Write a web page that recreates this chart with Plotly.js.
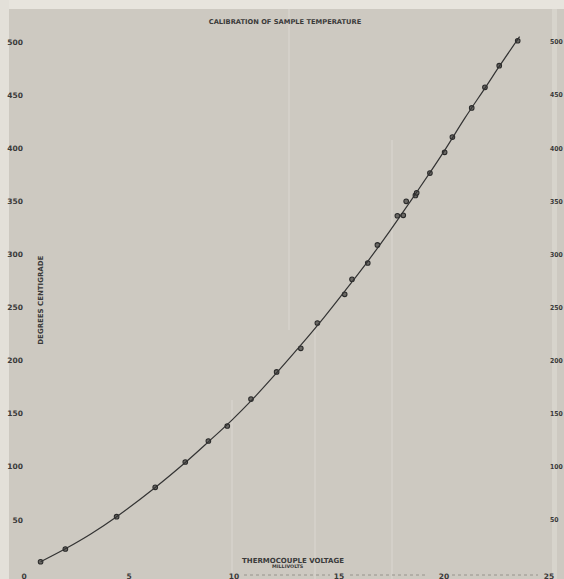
<!DOCTYPE html>
<html>
<head>
<meta charset="utf-8">
<script src="https://cdn.plot.ly/plotly-3.0.1.min.js"></script>
<style>html,body{margin:0;padding:0;background:#cdc9c1;}#chart{width:564px;height:579px;}</style>
</head>
<body>
<div id="chart"></div>
<script>
// Measured calibration points (millivolts, degrees centigrade)
const pointMillivolts = [0.79, 1.97, 4.41, 6.25, 7.68, 8.78, 9.68, 10.81, 12.03, 13.18, 13.97, 15.27, 15.62, 16.37, 16.83, 17.78, 18.06, 18.20, 18.64, 18.70, 19.33, 20.03, 20.40, 21.32, 21.95, 22.63, 23.51];
const pointDegrees    = [10.6, 22.6, 53.0, 80.7, 104.5, 124.3, 138.4, 163.8, 189.3, 211.6, 235.4, 262.4, 276.6, 291.9, 308.9, 336.4, 336.8, 350.0, 355.5, 358.0, 376.6, 396.1, 410.5, 437.9, 457.3, 477.7, 501.2];

// Hand-drawn calibration curve
const curveMillivolts = [0.79, 1.97, 3.2, 4.41, 6.25, 7.68, 8.78, 9.9, 10.81, 12.03, 13.2, 14.3, 15.3, 16.37, 17.4, 18.4, 19.33, 20.03, 21.0, 22.0, 22.63, 23.6];
const curveDegrees    = [10.6, 22.8, 37.0, 53.0, 80.5, 104.0, 123.5, 144.0, 162.0, 188.5, 215.0, 241.0, 266.0, 293.5, 321.5, 350.0, 377.0, 398.0, 428.5, 458.0, 477.0, 505.0];

// Tick labels
const xTickVals = [0, 5, 10, 15, 20, 25];
const xTickText = ['0', '5', '10', '15', '20', '25'];
const yTickVals = [50, 100, 150, 200, 250, 300, 350, 400, 450, 500];
const yTickText = ['50', '100', '150', '200', '250', '300', '350', '400', '450', '500'];

const titleText = 'CALIBRATION OF SAMPLE TEMPERATURE';
const xTitleText = 'THERMOCOUPLE VOLTAGE';
const xUnitText = 'MILLIVOLTS';
const yTitleText = 'DEGREES CENTIGRADE';

const W = 564, H = 579;
const M = {l: 24, r: 15, t: 30, b: 9};
const plotW = W - M.l - M.r, plotH = H - M.t - M.b;
const px = x => (x - M.l) / plotW;           // page px -> paper x
const py = y => (H - M.b - y) / plotH;       // page px -> paper y

const ink = '#3a3a3a';
const tickFont = {family: 'DejaVu Sans', size: 7.5, color: ink, weight: 'bold'};
const rightTickFont = {family: '"DejaVu Sans Condensed", "Liberation Sans Narrow", "DejaVu Sans"', size: 6.8, color: ink, weight: 'bold'};
const yRange = [2.82, 511.3];

const traces = [
  {
    x: curveMillivolts, y: curveDegrees, yaxis: 'y2',
    mode: 'lines', line: {color: '#333333', width: 1.2, shape: 'spline', smoothing: 1},
    hoverinfo: 'skip', showlegend: false
  },
  {
    x: pointMillivolts, y: pointDegrees,
    mode: 'markers',
    marker: {symbol: 'circle', size: 4.6, color: '#6a6864', line: {color: '#2a2a2a', width: 1.1}},
    showlegend: false
  }
];

function vline(xp, y0, y1) {
  return {type: 'line', xref: 'paper', yref: 'paper', x0: px(xp), x1: px(xp), y0: py(y0), y1: py(y1),
          line: {color: 'rgba(236,233,227,0.4)', width: 1.2}, layer: 'below'};
}
function ruler(x0, x1) {
  return {type: 'line', xref: 'paper', yref: 'paper', x0: px(x0), x1: px(x1), y0: py(575), y1: py(575),
          line: {color: '#96938c', width: 1, dash: 'dot'}, layer: 'above'};
}

const layout = {
  width: W, height: H,
  margin: M,
  paper_bgcolor: '#cdc9c1',
  plot_bgcolor: 'rgba(0,0,0,0)',
  showlegend: false,
  title: {text: titleText, x: 285 / W, y: 1 - 22 / H, xanchor: 'center', yanchor: 'middle',
          font: {family: 'DejaVu Sans', size: 6.7, color: ink, weight: 'bold'}},
  xaxis: {range: [0, 25], tickvals: xTickVals, ticktext: xTickText, tickfont: tickFont,
          showgrid: false, zeroline: false, showline: false, ticks: '', fixedrange: true},
  yaxis: {range: yRange, tickvals: yTickVals, ticktext: yTickText, tickfont: tickFont,
          showgrid: false, zeroline: false, showline: false, ticks: '', fixedrange: true},
  yaxis2: {range: yRange, overlaying: 'y', side: 'right', tickvals: yTickVals, ticktext: yTickText,
           tickfont: rightTickFont, showgrid: false, zeroline: false, showline: false, ticks: '', fixedrange: true},
  annotations: [
    {text: xTitleText, xref: 'paper', yref: 'paper', x: px(292.5), y: py(560.7), showarrow: false,
     xanchor: 'center', yanchor: 'middle', font: {family: 'DejaVu Sans', size: 7, color: ink, weight: 'bold'}},
    {text: xUnitText, xref: 'paper', yref: 'paper', x: px(287.5), y: py(566.5), showarrow: false,
     xanchor: 'center', yanchor: 'middle', font: {family: 'DejaVu Sans', size: 4.8, color: ink, weight: 'bold'}},
    {text: yTitleText, xref: 'paper', yref: 'paper', x: px(40.7), y: py(300), showarrow: false, textangle: -90,
     xanchor: 'center', yanchor: 'middle', font: {family: 'DejaVu Sans', size: 7, color: ink, weight: 'bold'}}
  ],
  shapes: [
    {type: 'rect', xref: 'paper', yref: 'paper', x0: px(0), x1: px(W), y0: py(0), y1: py(9),
     fillcolor: '#e7e4dd', line: {width: 0}, layer: 'below'},
    {type: 'rect', xref: 'paper', yref: 'paper', x0: px(0), x1: px(9), y0: py(0), y1: py(H),
     fillcolor: '#e3e0d9', line: {width: 0}, layer: 'below'},
    {type: 'rect', xref: 'paper', yref: 'paper', x0: px(552), x1: px(557), y0: py(9), y1: py(H),
     fillcolor: 'rgba(226,223,216,0.5)', line: {width: 0}, layer: 'below'},
    vline(232, 400, H), vline(289, 9, 330), vline(315, 330, H), vline(392, 140, H),
    ruler(244, 330), ruler(350, 428), ruler(452, 538)
  ]
};

Plotly.newPlot('chart', traces, layout, {displayModeBar: false, staticPlot: true});
</script>
</body>
</html>
